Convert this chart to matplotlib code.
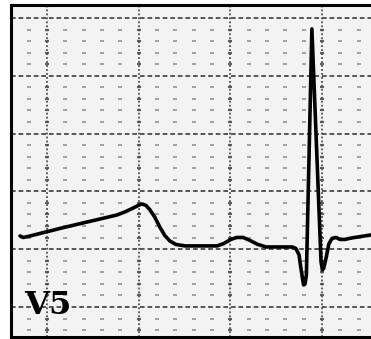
import numpy as np
import matplotlib.pyplot as plt

# lead V5 trace, time in seconds and amplitude in mV (offset baseline)
t = [-0.059, -0.052, -0.041, -0.015, 0.028, 0.079, 0.116, 0.153, 0.170, 0.188,
     0.199, 0.207, 0.216, 0.224, 0.235, 0.246, 0.257, 0.268, 0.281, 0.301,
     0.371, 0.386, 0.401, 0.414, 0.428, 0.443, 0.460, 0.478, 0.535, 0.543,
     0.550, 0.554, 0.558, 0.560, 0.563, 0.566, 0.578, 0.598, 0.601, 0.604,
     0.609, 0.615, 0.622, 0.631, 0.639, 0.650, 0.665, 0.707]
mv = [0.614, 0.601, 0.610, 0.636, 0.679, 0.727, 0.761, 0.796, 0.822, 0.856,
      0.878, 0.891, 0.878, 0.843, 0.778, 0.692, 0.618, 0.571, 0.541, 0.528,
      0.528, 0.549, 0.584, 0.601, 0.601, 0.575, 0.541, 0.519, 0.519, 0.506,
      0.450, 0.337, 0.234, 0.190, 0.199, 0.277, 2.405, 0.389, 0.320, 0.337,
      0.424, 0.545, 0.593, 0.601, 0.584, 0.584, 0.597, 0.623]
lead = 'V5'

# paper: small box 0.04 s x 0.1 mV, big box every 5
small_t, small_v = 0.04, 0.1
xlim = (-0.0797, 0.707)
ylim = (-0.26, 2.612)

fig = plt.figure(figsize=(3.71, 3.39), dpi=100)
ax = fig.add_axes([10.5 / 371, 2 / 339, 1 - 10.5 / 371, 332 / 339])
ax.set_facecolor('#f3f3f3')
ax.set_xlim(xlim)
ax.set_ylim(ylim)

# small-box marks
ks = np.arange(-2, 18)
js = np.arange(-2, 27)
gx, gy = np.meshgrid(ks, js)
keep = (gx % 5 != 0) & (gy % 5 != 0)
ax.scatter(gx[keep] * small_t, gy[keep] * small_v, marker='_', s=9,
           linewidths=1.4, color='#a0a0a0', zorder=1)
# marks along the big vertical lines
keep2 = (gx % 5 == 0) & (gy % 5 != 0)
ax.scatter(gx[keep2] * small_t, gy[keep2] * small_v, marker='_', s=5,
           linewidths=1.6, color='#606060', zorder=1)

# big boxes
for k in range(0, 18, 5):
    ax.axvline(k * small_t, color='#505050', lw=1.3, ls=(0, (1.0, 1.2)), zorder=2)
for j in range(0, 27, 5):
    ax.axhline(j * small_v, color='#4a4a4a', lw=1.3, ls=(0, (2.6, 1.6)), zorder=2)

ax.plot(t, mv, color='black', lw=2.6, solid_joinstyle='round',
        solid_capstyle='round', zorder=3)

ax.text(-0.050, -0.06, lead, family='DejaVu Serif', weight='bold',
        fontsize=23, color='black', va='baseline', ha='left', zorder=4)

ax.set_xticks([])
ax.set_yticks([])
for side in ['left', 'top', 'bottom']:
    ax.spines[side].set_linewidth(2.2)
ax.spines['right'].set_visible(False)

fig.savefig('out.png', dpi=100, facecolor='white')
